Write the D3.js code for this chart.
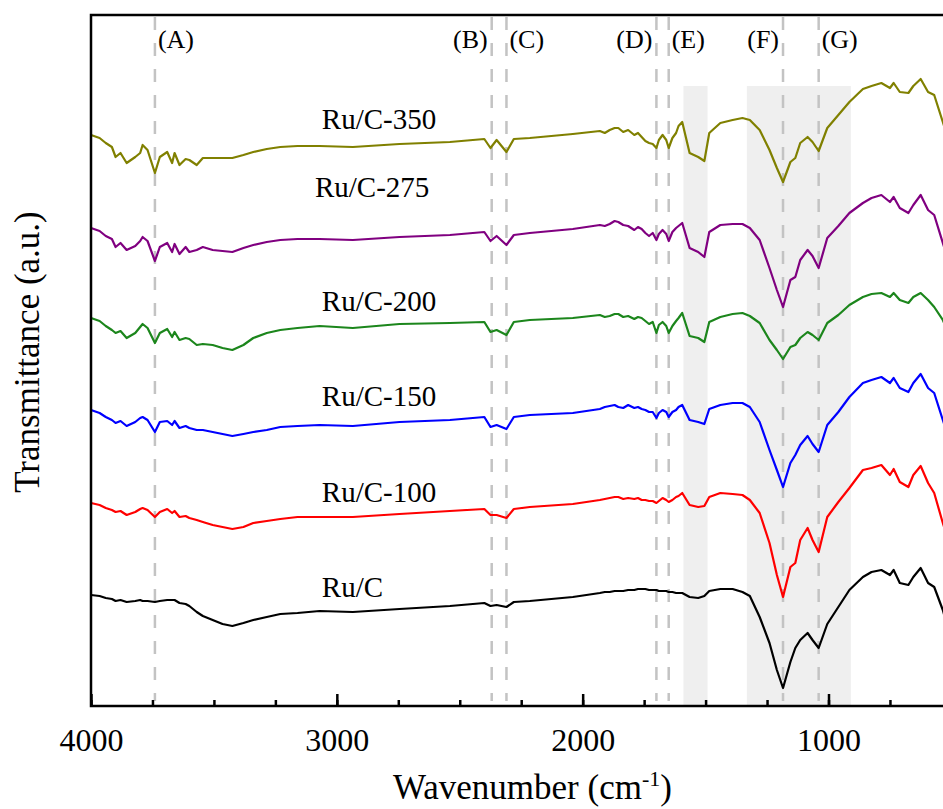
<!DOCTYPE html>
<meta charset="utf-8">
<head>
    <style>
        body{
            margin: 0;
            background-color: white;
        }
        svg text{
            font-family: "Liberation Serif", "Times New Roman", serif;
            fill: black;
        }
    </style>
</head>
<body>
<div id="ftir"></div>

<script src="https://d3js.org/d3.v7.min.js"></script>
<script>

    // wavenumber grid (cm-1) shared by all spectra
    const wavenumbers = [4000, 3965, 3940, 3915, 3900, 3880, 3855, 3820, 3800, 3790,
        3770, 3740, 3720, 3690, 3670, 3660, 3640, 3615, 3600, 3570,
        3545, 3505, 3465, 3425, 3380, 3340, 3285, 3230, 3160, 3070,
        2935, 2745, 2540, 2400, 2375, 2350, 2310, 2280, 2215, 2040,
        1930, 1910, 1890, 1870, 1855, 1835, 1815, 1790, 1775, 1760,
        1745, 1730, 1715, 1700, 1690, 1675, 1660, 1650, 1635, 1620,
        1610, 1595, 1565, 1530, 1505, 1485, 1440, 1390, 1350, 1320,
        1280, 1240, 1210, 1185, 1155, 1135, 1115, 1085, 1065, 1040,
        1005, 960, 915, 860, 825, 785, 750, 735, 710, 675,
        655, 625, 595, 570, 535, 500];

    // transmittance (a.u., stacked)
    const ruC350 = [571, 568, 563, 559, 549, 553, 543, 549, 553, 561,
        556, 533, 549, 554, 543, 553, 541, 547, 546, 541,
        548, 548, 548, 548, 551, 554, 557, 559, 560, 560,
        559, 562, 564, 567, 558, 566, 554, 567, 568, 572,
        575, 573, 576, 578, 578, 574, 576, 571, 573, 569,
        565, 563, 562, 558, 566, 571, 566, 558, 568, 573,
        580, 584, 553, 549, 545, 573, 583, 586, 588, 586,
        576, 556, 538, 524, 544, 548, 563, 569, 564, 555,
        578, 591, 604, 617, 620, 623, 618, 623, 614, 613,
        620, 627, 614, 611, 584, 556];
    const ruC275 = [478, 475, 470, 467, 459, 463, 456, 460, 465, 469,
        465, 445, 459, 463, 454, 462, 452, 459, 454, 456,
        459, 456, 455, 454, 458, 461, 464, 466, 467, 467,
        466, 469, 471, 474, 465, 470, 461, 471, 473, 477,
        481, 480, 482, 485, 484, 481, 480, 476, 479, 477,
        473, 470, 473, 466, 472, 476, 472, 465, 474, 478,
        480, 483, 458, 454, 449, 474, 481, 482, 482, 478,
        466, 438, 416, 399, 426, 429, 446, 456, 450, 438,
        468, 480, 493, 503, 508, 511, 504, 509, 498, 493,
        501, 511, 496, 491, 463, 436];
    const ruC200 = [388, 385, 380, 376, 373, 375, 368, 373, 379, 382,
        378, 363, 373, 377, 369, 374, 366, 368, 367, 361,
        362, 361, 358, 356, 361, 368, 373, 376, 378, 380,
        378, 382, 383, 384, 374, 376, 371, 384, 386, 388,
        391, 389, 390, 392, 392, 389, 390, 387, 389, 388,
        385, 382, 384, 373, 381, 384, 380, 373, 380, 385,
        388, 393, 370, 368, 364, 384, 389, 392, 393, 390,
        383, 366, 356, 347, 359, 361, 368, 374, 371, 366,
        383, 391, 401, 409, 412, 413, 409, 413, 406, 403,
        409, 413, 406, 399, 386, 366];
    const ruC150 = [296, 293, 289, 286, 283, 285, 280, 284, 288, 289,
        286, 274, 284, 285, 281, 285, 278, 280, 278, 276,
        276, 274, 272, 270, 272, 274, 276, 279, 280, 281,
        280, 284, 286, 289, 279, 281, 277, 289, 291, 293,
        297, 299, 300, 301, 299, 298, 301, 298, 299, 297,
        296, 294, 294, 288, 293, 296, 294, 289, 294, 296,
        299, 301, 286, 284, 282, 297, 301, 303, 303, 299,
        284, 256, 236, 219, 243, 251, 261, 270, 262, 254,
        281, 294, 309, 323, 326, 329, 323, 328, 318, 314,
        323, 332, 318, 313, 286, 261];
    const ruC100 = [203, 201, 198, 196, 194, 195, 191, 194, 197, 198,
        196, 189, 194, 197, 193, 195, 189, 190, 188, 186,
        184, 181, 179, 177, 179, 183, 185, 187, 189, 189,
        189, 192, 195, 197, 191, 191, 188, 197, 199, 202,
        206, 207, 208, 209, 209, 207, 208, 207, 208, 206,
        206, 205, 205, 203, 205, 208, 206, 204, 206, 209,
        210, 213, 201, 199, 200, 209, 213, 212, 211, 206,
        193, 163, 131, 109, 139, 143, 166, 178, 166, 154,
        189, 204, 218, 236, 238, 241, 231, 237, 224, 219,
        231, 240, 223, 213, 183, 156];
    const ruC = [111, 110, 108, 107, 105, 106, 104, 105, 106, 105,
        105, 104, 105, 106, 106, 106, 103, 102, 100, 94,
        90, 86, 82, 80, 83, 86, 89, 92, 93, 95,
        94, 97, 100, 103, 100, 101, 99, 104, 105, 109,
        113, 114, 114, 115, 115, 115, 116, 116, 117, 117,
        117, 116, 116, 116, 115, 115, 115, 114, 114, 113,
        113, 113, 109, 108, 110, 115, 117, 117, 114, 110,
        89, 63, 36, 18, 44, 58, 66, 73, 66, 58,
        82, 99, 116, 129, 134, 136, 131, 136, 123, 121,
        129, 138, 123, 119, 96, 66];

    const seriesNames = ["Ru/C-350", "Ru/C-275", "Ru/C-200", "Ru/C-150", "Ru/C-100", "Ru/C"];
    const seriesValues = [ruC350, ruC275, ruC200, ruC150, ruC100, ruC];
    const seriesColors = ["#808000", "#800080", "#1c861c", "#0000ff", "#ff0000", "#000000"];
    // where each name sits (wavenumber, a.u.)
    const labelWn = [3061, 3089, 3061, 3061, 3061, 3061];
    const labelY = [577, 509, 395, 300, 204, 109];

    // marked bands
    const peakNames = ["(A)", "(B)", "(C)", "(D)", "(E)", "(F)", "(G)"];
    const peakWn = [3740, 2370, 2310, 1700, 1650, 1185, 1040];
    const peakSide = ["right", "left", "right", "left", "right", "left", "right"];
    const shadeFrom = [1590, 1332];
    const shadeTo = [1492, 909];
    const shadeTop = 620;

    const majorTicks = [4000, 3000, 2000, 1000];
    const minorTicks = d3.range(4000, 400, -250);

    const serif = "Liberation Serif, Times New Roman, serif";

    // set the dimensions and margins of the graph
    const W = 943, H = 809;
    const margin = {top: 15, left: 91, bottom: 103},
        plotRight = 976;

    const svg = d3.select("#ftir")
        .append("svg")
        .attr("width", W)
        .attr("height", H)
        .style("display", "block");

    svg.append("rect")
        .attr("width", W)
        .attr("height", H)
        .attr("fill", "white");

    const x = d3.scaleLinear()
        .domain([4000, 400])
        .range([margin.left, plotRight]);
    const y = d3.scaleLinear()
        .domain([0, 691])
        .range([H - margin.bottom, margin.top]);

    // grey bands
    svg.append("g")
        .selectAll("rect")
        .data(shadeFrom)
        .join("rect")
        .attr("x", (d, i) => x(d))
        .attr("width", (d, i) => x(shadeTo[i]) - x(d))
        .attr("y", y(shadeTop))
        .attr("height", y(0) - y(shadeTop))
        .attr("fill", "#efefef");

    // dashed guide lines
    svg.append("g")
        .selectAll("line")
        .data(peakWn)
        .join("line")
        .attr("x1", d => x(d))
        .attr("x2", d => x(d))
        .attr("y1", margin.top + 2)
        .attr("y2", y(0) - 5)
        .attr("stroke", "#c3c3c3")
        .attr("stroke-width", 2.5)
        .attr("stroke-dasharray", "13,13");

    svg.append("g")
        .selectAll("text")
        .data(peakNames)
        .join("text")
        .attr("x", (d, i) => x(peakWn[i]) + (peakSide[i] === "right" ? 3 : -4))
        .attr("y", 48)
        .attr("text-anchor", (d, i) => peakSide[i] === "right" ? "start" : "end")
        .style("font-size", "26px")
        .text(d => d);

    // spectra
    const line = d3.line()
        .x((d, i) => x(wavenumbers[i]))
        .y(d => y(d));

    svg.append("g")
        .selectAll("path")
        .data(seriesValues)
        .join("path")
        .attr("fill", "none")
        .attr("stroke", (d, i) => seriesColors[i])
        .attr("stroke-width", 2.2)
        .attr("stroke-linejoin", "round")
        .attr("d", d => line(d));

    svg.append("g")
        .selectAll("text")
        .data(seriesNames)
        .join("text")
        .attr("x", (d, i) => x(labelWn[i]))
        .attr("y", (d, i) => y(labelY[i]))
        .style("font-size", "29px")
        .text(d => d);

    // frame
    svg.append("rect")
        .attr("x", margin.left)
        .attr("y", margin.top)
        .attr("width", plotRight - margin.left)
        .attr("height", y(0) - margin.top)
        .attr("fill", "none")
        .attr("stroke", "black")
        .attr("stroke-width", 2.5);

    // x axis, ticks pointing inward
    svg.append("g")
        .attr("transform", `translate(0, ${y(0)})`)
        .call(d3.axisBottom(x).tickValues(minorTicks).tickSize(-6).tickFormat(""));
    const axisMajor = svg.append("g")
        .attr("transform", `translate(0, ${y(0)})`)
        .call(d3.axisBottom(x).tickValues(majorTicks).tickSize(-12).tickPadding(22).tickFormat(d3.format("d")));
    axisMajor.attr("font-family", serif);
    svg.selectAll(".domain").remove();
    svg.selectAll(".tick line").attr("stroke", "black").attr("stroke-width", 2.5);
    axisMajor.selectAll("text")
        .style("font-family", serif)
        .style("font-size", "32px");

    // axis titles
    const xt = svg.append("text")
        .attr("x", (margin.left + plotRight) / 2 - 1)
        .attr("y", 799)
        .attr("text-anchor", "middle")
        .style("font-size", "35px");
    xt.append("tspan").text("Wavenumber (cm");
    xt.append("tspan").attr("dy", -13).style("font-size", "22px").text("-1");
    xt.append("tspan").attr("dy", 13).text(")");

    svg.append("text")
        .attr("transform", `translate(39, ${352}) rotate(-90)`)
        .attr("text-anchor", "middle")
        .style("font-size", "35px")
        .text("Transmittance (a.u.)");

</script>
</body>
